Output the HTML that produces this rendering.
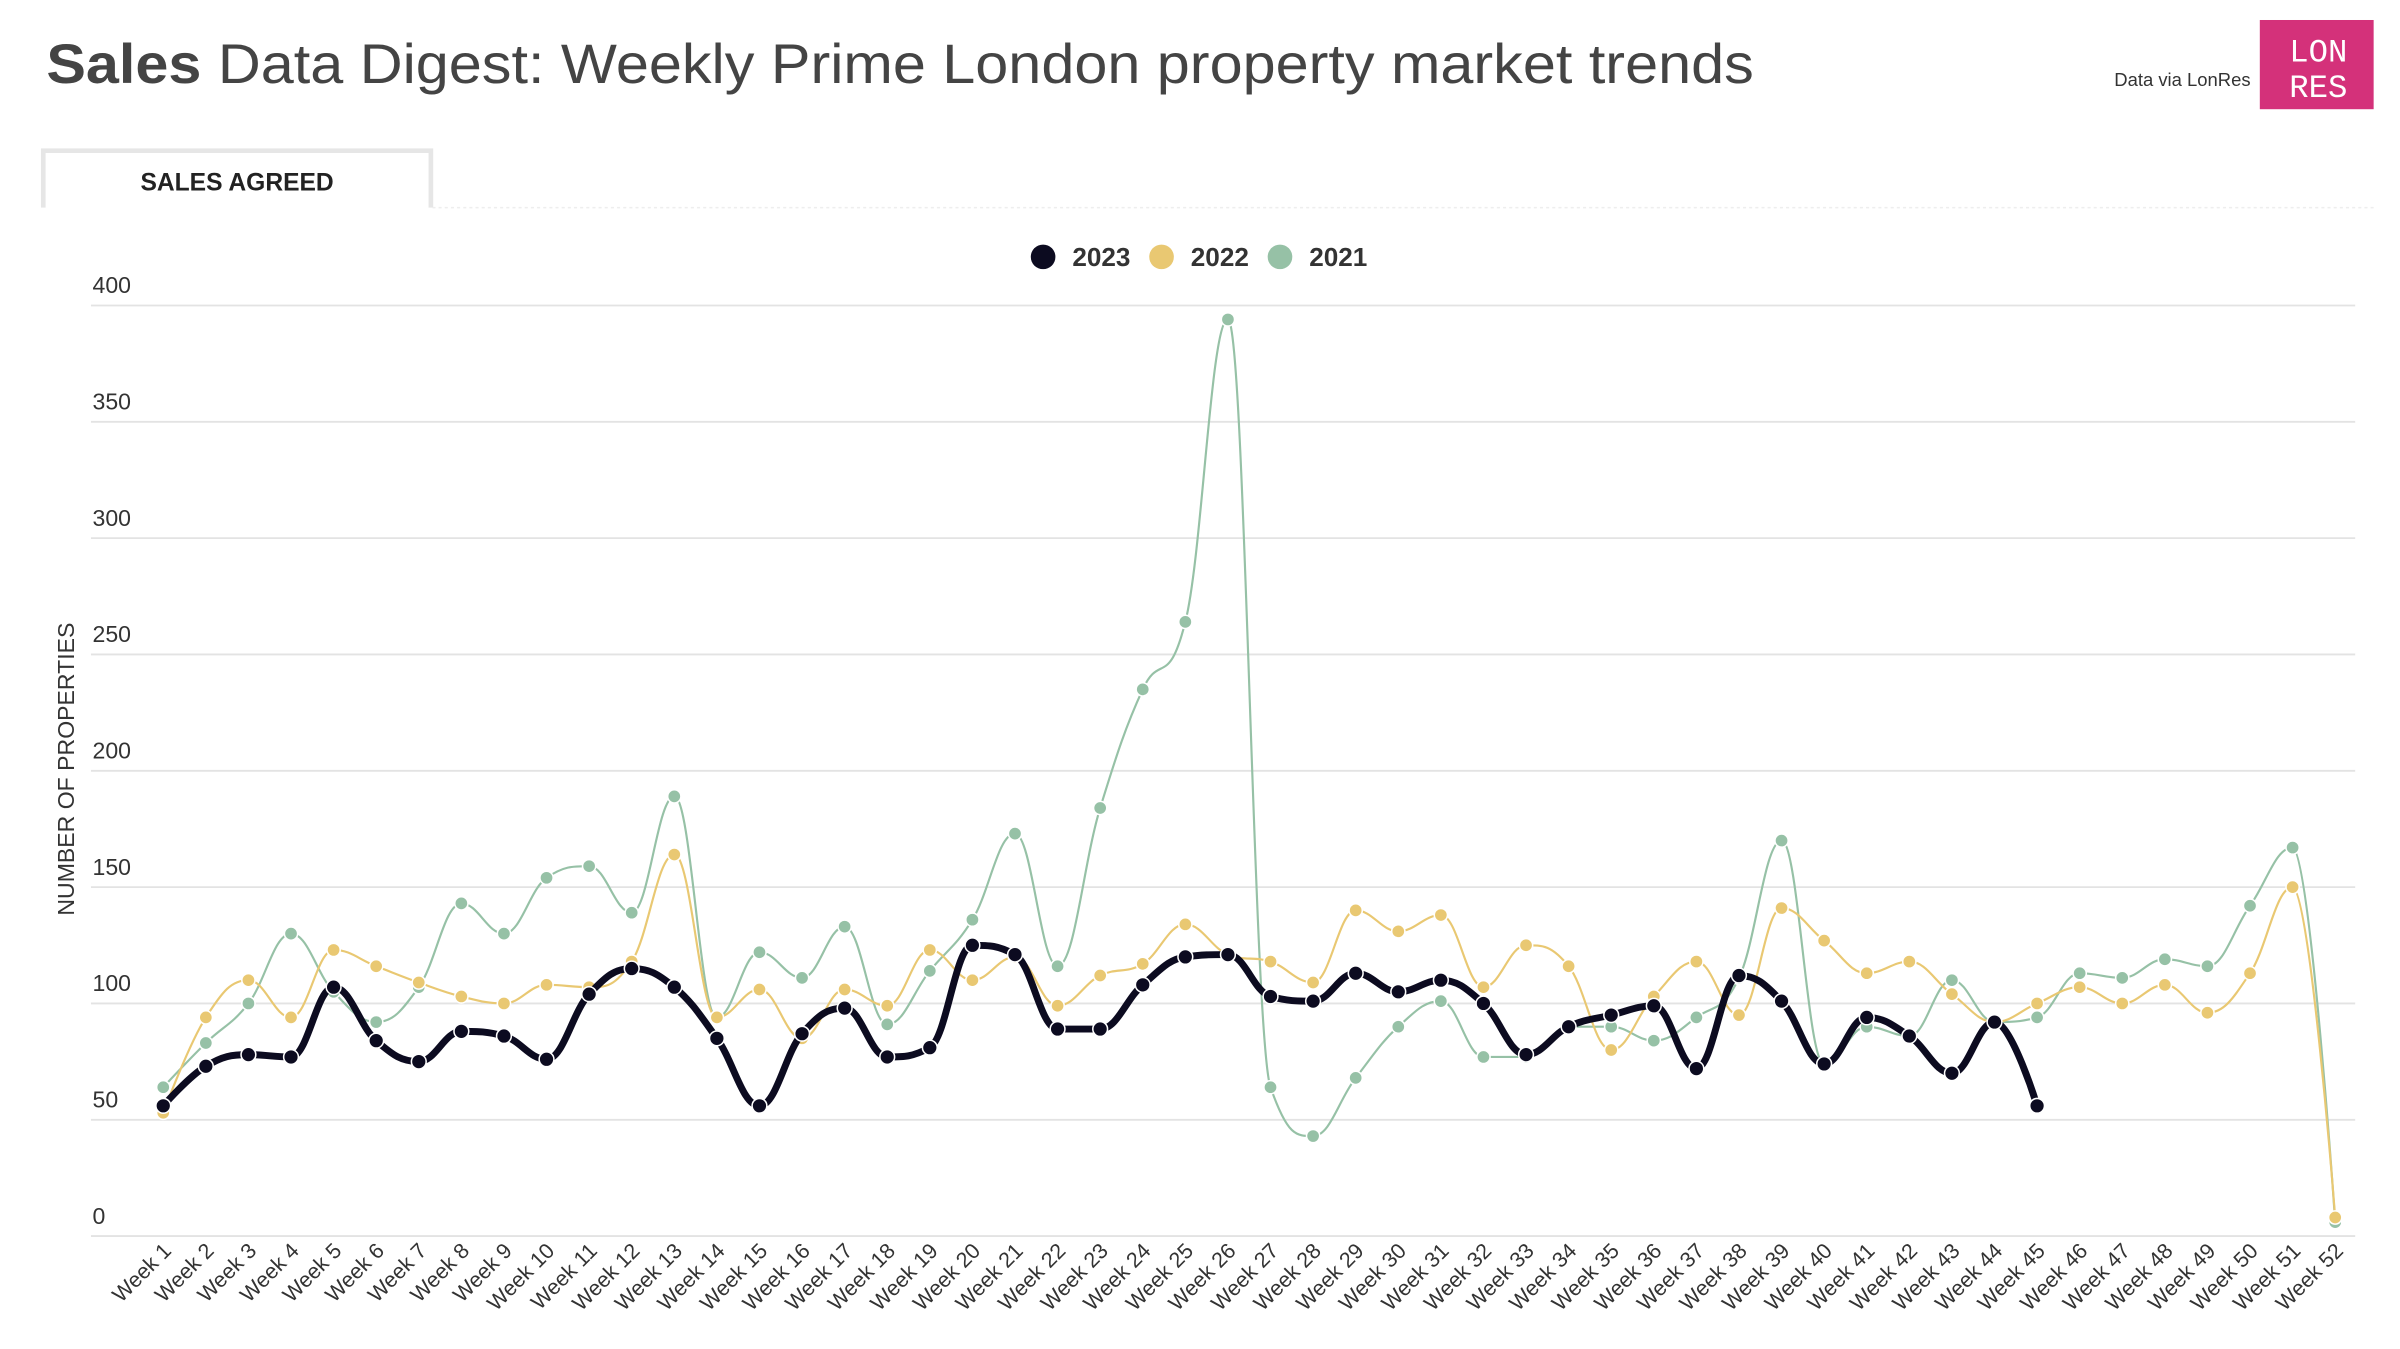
<!DOCTYPE html>
<html><head><meta charset="utf-8"><style>
html,body{margin:0;padding:0;background:#fff;}
svg{display:block;}
text{font-family:"Liberation Sans",sans-serif;}
</style></head><body>
<svg id="s" width="2400" height="1349" viewBox="0 0 1560 877" xmlns="http://www.w3.org/2000/svg">
<rect width="1560" height="877" fill="#fff"/>
<text x="30" y="54" font-size="36" fill="#444" textLength="1110" lengthAdjust="spacingAndGlyphs"><tspan font-weight="bold">Sales</tspan> Data Digest: Weekly Prime London property market trends</text>
<text x="1463" y="56" font-size="12" fill="#333" text-anchor="end">Data via LonRes</text>
<rect x="1469" y="13" width="74" height="58" fill="#d4317a"/>
<text x="1507" y="40" font-size="21" fill="#fff" text-anchor="middle" style="font-family:'Liberation Mono',monospace">LON</text>
<text x="1507" y="63" font-size="21" fill="#fff" text-anchor="middle" style="font-family:'Liberation Mono',monospace">RES</text>
<path d="M28,135 L28,98 L280,98 L280,135" fill="none" stroke="#e6e6e6" stroke-width="3"/>
<line x1="281" y1="135" x2="1543" y2="135" stroke="#eee" stroke-width="1" stroke-dasharray="2,2"/>
<text x="154" y="124" font-size="16" font-weight="bold" fill="#222" text-anchor="middle">SALES AGREED</text>
<circle cx="678" cy="167" r="8" fill="#0c0b20"/><text x="697" y="173" font-size="17" font-weight="bold" fill="#333">2023</text>
<circle cx="755" cy="167" r="8" fill="#e9c872"/><text x="774" y="173" font-size="17" font-weight="bold" fill="#333">2022</text>
<circle cx="832" cy="167" r="8" fill="#96c1a6"/><text x="851" y="173" font-size="17" font-weight="bold" fill="#333">2021</text>
<text transform="translate(48,500) rotate(-90)" font-size="15" fill="#333" text-anchor="middle">NUMBER OF PROPERTIES</text>
<g id="grid"></g><g id="xl"></g><g id="ser"></g>
</svg>
<script>
var NS="http://www.w3.org/2000/svg";
function el(t,a,p){var e=document.createElementNS(NS,t);for(var k in a)e.setAttribute(k,a[k]);p.appendChild(e);return e;}
var y0=803.6,k=1.5125,x0=106,dx=(1518-106)/51;
function Y(v){return y0-v*k}function X(i){return x0+i*dx}
var g=document.getElementById('grid');
for(var v=0;v<=400;v+=50){var y=Y(v);el('line',{x1:59,x2:1531,y1:y,y2:y,stroke:'#e3e3e3','stroke-width':1.2},g);
var t=el('text',{x:60,y:y-8,'font-size':15,fill:'#333'},g);t.textContent=v;}
var xl=document.getElementById('xl');
for(var i=0;i<52;i++){var t=el('text',{transform:'translate('+(X(i)+6)+',814) rotate(-45)','font-size':14,fill:'#333','text-anchor':'end'},xl);t.textContent='Week '+(i+1);}
var d23=[56,73,78,77,107,84,75,88,86,76,104,115,107,85,56,87,98,77,81,125,121,89,89,108,120,121,103,101,113,105,110,100,78,90,95,99,72,112,101,74,94,86,70,92,56];
var d22=[53,94,110,94,123,116,109,103,100,108,107,118,164,94,106,85,106,99,123,110,120,99,112,117,134,121,118,109,140,131,138,107,125,116,80,103,118,95,141,127,113,118,104,92,100,107,100,108,96,113,150,8];
var d21=[64,83,100,130,105,92,107,143,130,154,159,139,189,94,122,111,133,91,114,136,173,116,184,235,264,394,64,43,68,90,101,77,77,90,90,84,94,111,170,74,90,86,110,92,94,113,111,119,116,142,167,6];
function spline(d){var p=d.map(function(v,i){return[X(i),Y(v)]});var s='M'+p[0][0]+','+p[0][1];
var sm=1.5,dn=2.5,C=[];
for(var i=0;i<p.length;i++){var cur=p[i],pr=p[i-1],nx=p[i+1];
if(pr&&nx){var lx=(sm*cur[0]+pr[0])/dn,ly=(sm*cur[1]+pr[1])/dn,rx=(sm*cur[0]+nx[0])/dn,ry=(sm*cur[1]+nx[1])/dn;
var c=((ry-ly)*(rx-cur[0]))/(rx-lx)+cur[1]-ry;ly+=c;ry+=c;
if(ly>pr[1]&&ly>cur[1]){ly=Math.max(pr[1],cur[1]);ry=2*cur[1]-ly;}else if(ly<pr[1]&&ly<cur[1]){ly=Math.min(pr[1],cur[1]);ry=2*cur[1]-ly;}
if(ry>nx[1]&&ry>cur[1]){ry=Math.max(nx[1],cur[1]);ly=2*cur[1]-ry;}else if(ry<nx[1]&&ry<cur[1]){ry=Math.min(nx[1],cur[1]);ly=2*cur[1]-ry;}
C[i]={l:[lx,ly],r:[rx,ry]};}else C[i]={l:cur,r:cur};}
for(var i=1;i<p.length;i++){s+=' C'+C[i-1].r[0]+','+C[i-1].r[1]+' '+C[i].l[0]+','+C[i].l[1]+' '+p[i][0]+','+p[i][1];}
return s;}
var S=document.getElementById('ser');
function draw(d,col,w,r){el('path',{d:spline(d),fill:'none',stroke:col,'stroke-width':w,'stroke-linejoin':'round','stroke-linecap':'round'},S);
d.forEach(function(v,i){el('circle',{cx:X(i),cy:Y(v),r:r,fill:col,stroke:'#fff','stroke-width':1},S);});}
draw(d21,'#96c1a6',1.4,4.3);
draw(d22,'#e9c872',1.4,4.3);
draw(d23,'#0c0b20',4.5,4.8);
</script>
</body></html>
